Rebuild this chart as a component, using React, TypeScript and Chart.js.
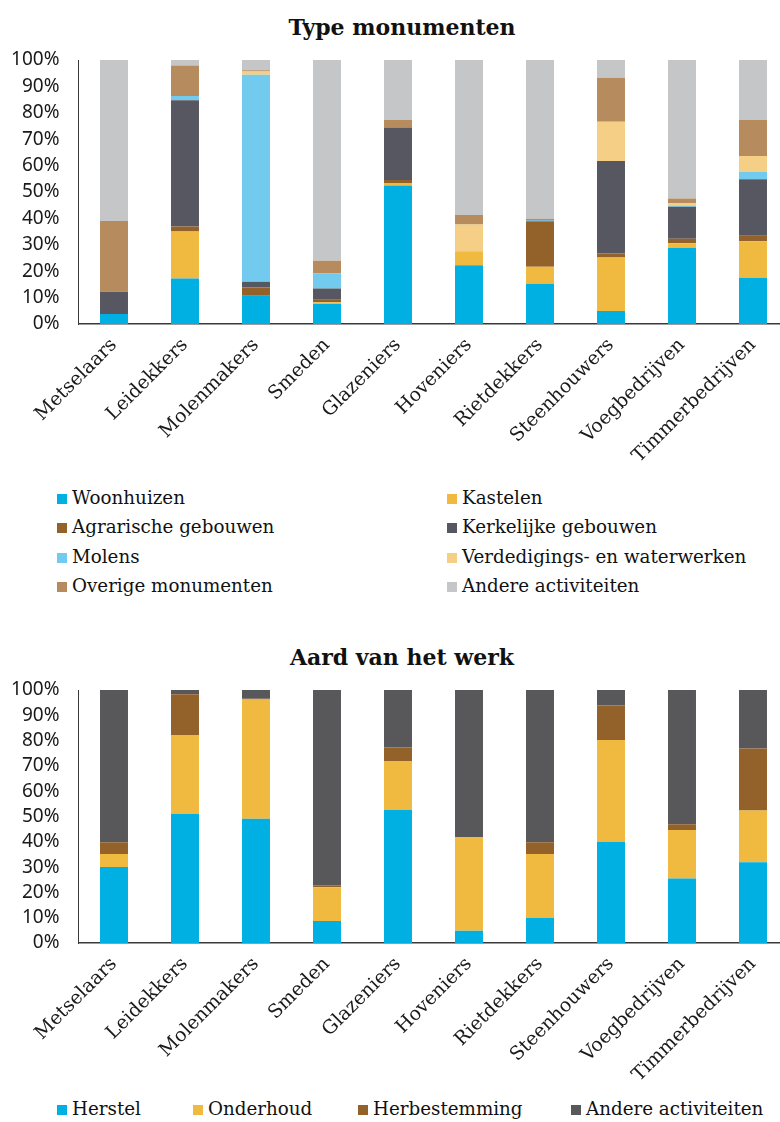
import React, { useEffect, useRef } from "react";
import { Chart, registerables } from "chart.js";

Chart.register(...registerables);

const categories = [
  "Metselaars",
  "Leidekkers",
  "Molenmakers",
  "Smeden",
  "Glazeniers",
  "Hoveniers",
  "Rietdekkers",
  "Steenhouwers",
  "Voegbedrijven",
  "Timmerbedrijven",
];

// Chart 1: Type monumenten (percent shares)
const woonhuizen = [3.8, 17.2, 10.7, 7.6, 52.5, 22.3, 15.2, 4.9, 28.9, 17.5];
const kastelen = [0, 17.8, 0, 0.6, 0.9, 5.3, 6.5, 20.3, 1.7, 13.8];
const agrarisch = [0, 1.9, 3.1, 1.0, 1.1, 0, 17.1, 1.5, 1.7, 2.1];
const kerkelijk = [8.4, 47.9, 2.2, 4.2, 19.9, 0, 0.3, 35.0, 12.1, 21.4];
const molens = [0, 1.6, 78.4, 5.7, 0, 0, 0.3, 0, 0.5, 2.8];
const verdediging = [0, 0, 1.2, 0, 0, 10.1, 0, 14.9, 0.9, 6.0];
const overige = [26.8, 11.5, 0.5, 4.9, 2.9, 3.6, 0.5, 16.7, 1.7, 13.7];
const andere1 = [61.0, 2.1, 3.9, 76.0, 22.7, 58.7, 60.1, 6.7, 52.5, 22.7];

// Chart 2: Aard van het werk
const herstel = [30.0, 51.0, 49.1, 8.7, 52.6, 4.8, 9.9, 40.0, 25.5, 31.9];
const onderhoud = [5.2, 31.2, 47.1, 13.3, 19.3, 37.1, 25.3, 40.2, 19.2, 20.5];
const herbestemming = [4.6, 16.1, 0.3, 0.8, 5.4, 0, 4.6, 13.7, 2.2, 24.5];
const andere2 = [60.2, 1.7, 3.5, 77.2, 22.7, 58.1, 60.2, 6.1, 53.1, 23.1];

const yTicks = [0, 10, 20, 30, 40, 50, 60, 70, 80, 90, 100];

const series1 = [
  { label: "Woonhuizen", data: woonhuizen, color: "#00B0E3" },
  { label: "Kastelen", data: kastelen, color: "#F0BA41" },
  { label: "Agrarische gebouwen", data: agrarisch, color: "#93622A" },
  { label: "Kerkelijke gebouwen", data: kerkelijk, color: "#575761" },
  { label: "Molens", data: molens, color: "#72CAEF" },
  { label: "Verdedigings- en waterwerken", data: verdediging, color: "#F4CF85" },
  { label: "Overige monumenten", data: overige, color: "#B68C5E" },
  { label: "Andere activiteiten", data: andere1, color: "#C5C6C8" },
];

const series2 = [
  { label: "Herstel", data: herstel, color: "#00B0E3" },
  { label: "Onderhoud", data: onderhoud, color: "#F0BA41" },
  { label: "Herbestemming", data: herbestemming, color: "#93622A" },
  { label: "Andere activiteiten", data: andere2, color: "#58585A" },
];

const CANVAS_W = 790;
const PLOT_LEFT = 78.5;
const PLOT_RIGHT = 788.5;

function makeConfig(series: any[], canvasH: number, plotTop: number, plotBottom: number): any {
  return {
    type: "bar",
    data: {
      labels: categories,
      datasets: series.map((s) => ({
        label: s.label,
        data: s.data,
        backgroundColor: s.color,
        borderWidth: 0,
        categoryPercentage: 1,
        barPercentage: 0.394,
      })),
    },
    options: {
      responsive: false,
      animation: false,
      devicePixelRatio: 1,
      layout: { padding: { top: plotTop, right: CANVAS_W - PLOT_RIGHT, left: 0, bottom: 0 } },
      plugins: { legend: { display: false }, title: { display: false }, tooltip: { enabled: false } },
      scales: {
        x: {
          stacked: true,
          grid: { display: false, drawTicks: false },
          border: { display: true, color: "#3a3a3a", width: 1.5 },
          ticks: {
            minRotation: 45,
            maxRotation: 45,
            autoSkip: false,
            padding: 10,
            color: "#1a1a1a",
            font: { family: "'DejaVu Serif', serif", size: 19 },
          },
          afterFit: (s: any) => {
            s.height = canvasH - plotBottom;
          },
        },
        y: {
          stacked: true,
          min: 0,
          max: 100,
          grid: { display: false, drawTicks: false },
          border: { display: true, color: "#3a3a3a", width: 1 },
          afterBuildTicks: (s: any) => {
            s.ticks = yTicks.map((v) => ({ value: v }));
          },
          ticks: {
            autoSkip: false,
            padding: 19,
            color: "#1a1a1a",
            font: { family: "'Noto Sans', sans-serif", size: 19 },
            callback: (v: any) => v + "%",
          },
          afterFit: (s: any) => {
            s.width = PLOT_LEFT;
          },
        },
      },
    },
  };
}

function ChartCanvas({ series, top, height, plotTop, plotBottom }: any) {
  const ref = useRef<HTMLCanvasElement | null>(null);
  useEffect(() => {
    if (!ref.current) return;
    const chart = new Chart(ref.current, makeConfig(series, height, plotTop, plotBottom));
    return () => chart.destroy();
  }, []);
  return (
    <canvas
      ref={ref}
      width={CANVAS_W}
      height={height}
      style={{ position: "absolute", left: 0, top, width: CANVAS_W, height }}
    />
  );
}

const legendText: React.CSSProperties = {
  position: "absolute",
  fontFamily: "'DejaVu Serif', serif",
  fontSize: 18.3,
  color: "#111",
  whiteSpace: "nowrap",
  lineHeight: "22px",
};

function LegendItem({ x, y, color, label }: any) {
  return (
    <>
      <div style={{ position: "absolute", left: x, top: y - 5, width: 10, height: 10, background: color }} />
      <div style={{ ...legendText, left: x + 15, top: y - 12 }}>{label}</div>
    </>
  );
}

const titleStyle: React.CSSProperties = {
  position: "absolute",
  left: 12,
  width: 780,
  textAlign: "center",
  fontFamily: "'DejaVu Serif', serif",
  fontWeight: "bold",
  fontSize: 22,
  color: "#111",
  lineHeight: "26px",
};

export default function App() {
  const legend1Pos = series1.map((s, i) => ({
    x: i % 2 === 0 ? 57 : 447,
    y: 499 + Math.floor(i / 2) * 29.3,
  }));
  const legend2X = [57, 193, 358, 571];
  return (
    <div
      style={{
        position: "absolute",
        left: 0,
        top: 0,
        width: 780,
        height: 1122,
        overflow: "hidden",
        background: "#fff",
      }}
    >
      <div style={{ ...titleStyle, top: 14 }}>Type monumenten</div>
      <ChartCanvas series={series1} top={0} height={470} plotTop={60} plotBottom={324} />
      {series1.map((s, i) => (
        <LegendItem key={s.label} x={legend1Pos[i].x} y={legend1Pos[i].y} color={s.color} label={s.label} />
      ))}
      <div style={{ ...titleStyle, top: 644 }}>Aard van het werk</div>
      <ChartCanvas series={series2} top={640} height={450} plotTop={50} plotBottom={303} />
      {series2.map((s, i) => (
        <LegendItem key={s.label} x={legend2X[i]} y={1110} color={s.color} label={s.label} />
      ))}
    </div>
  );
}
